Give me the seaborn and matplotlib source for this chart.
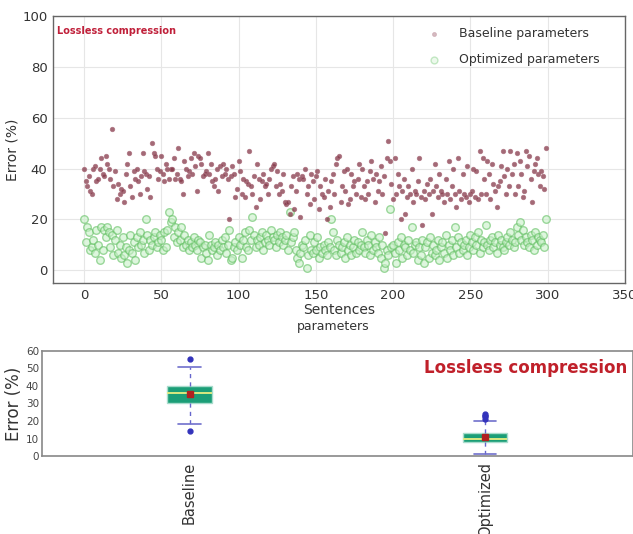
import numpy as np
import pandas as pd
import matplotlib
matplotlib.use("Agg")
import matplotlib.pyplot as plt
import seaborn as sns

# Per-sentence error (%) for each parameter set, sentences 0..299
baseline_err = [
    40, 35, 33, 37, 31, 30, 40, 41, 35, 36, 40, 44, 38, 37, 45, 42, 40, 36, 55.5, 33,
    39, 28, 34, 30, 32, 31, 27, 38, 42, 46, 33, 29, 39, 36, 40, 35, 30, 37, 46, 39,
    38, 32, 37, 29, 50, 46, 45, 40, 36, 39, 45, 38, 35, 42, 40, 36, 40, 40, 44, 36,
    38, 48, 36, 35, 30, 43, 40, 37, 39, 44, 38, 46, 41, 31, 45, 44, 42, 37, 38, 39,
    46, 38, 42, 35, 33, 36, 40, 31, 41, 37, 42, 38, 40, 36, 20, 37, 41, 38, 29, 32,
    43, 39, 30, 36, 29, 35, 34, 47, 33, 30, 37, 25, 42, 36, 28, 35, 38, 33, 34, 30,
    36, 40, 41, 42, 33, 39, 30, 34, 31, 38, 27, 26, 27, 22, 33, 37, 24, 31, 38, 36,
    21, 37, 36, 40, 30, 33, 26, 38, 35, 28, 37, 39, 24, 33, 30, 29, 36, 20, 31, 25,
    35, 38, 30, 42, 44, 45, 27, 33, 39, 31, 40, 26, 28, 38, 33, 35, 30, 36, 42, 29,
    40, 33, 28, 35, 30, 39, 43, 36, 27, 38, 31, 35, 41, 30, 37, 14.5, 44, 51, 43, 34,
    28, 44, 30, 38, 33, 20, 31, 36, 22, 29, 33, 30, 40, 27, 31, 30, 35, 44, 29, 18,
    31, 28, 34, 30, 36, 22, 31, 42, 33, 29, 38, 31, 30, 27, 36, 30, 43, 28, 33, 40,
    30, 25, 44, 31, 28, 38, 30, 29, 41, 27, 30, 31, 40, 29, 39, 28, 47, 30, 44, 36,
    30, 43, 38, 28, 42, 34, 31, 25, 33, 35, 41, 47, 37, 30, 40, 33, 47, 38, 42, 30,
    46, 33, 43, 38, 29, 31, 47, 41, 45, 36, 27, 39, 42, 44, 38, 33, 39, 37, 32, 48,
]
optimized_err = [
    20, 11, 17, 15, 8, 9, 12, 7, 16, 10, 4, 17, 8, 16, 13, 17, 15, 9, 14, 6,
    12, 16, 7, 10, 5, 13, 6, 9, 3, 8, 14, 7, 11, 4, 13, 9, 15, 10, 12, 7,
    20, 14, 8, 12, 10, 13, 15, 9, 11, 14, 12, 8, 15, 9, 16, 23, 19, 20, 13, 17,
    11, 15, 12, 17, 9, 14, 10, 12, 8, 11, 9, 13, 10, 8, 12, 11, 5, 9, 10, 7,
    4, 14, 10, 8, 9, 11, 6, 10, 8, 12, 9, 13, 7, 10, 16, 4, 5, 9, 11, 8,
    13, 10, 5, 12, 15, 9, 8, 16, 12, 21, 14, 9, 12, 10, 13, 15, 8, 11, 14, 12,
    10, 16, 13, 12, 9, 14, 11, 15, 13, 10, 12, 14, 8, 23, 11, 13, 15, 8, 5, 3,
    7, 10, 9, 12, 1, 6, 14, 8, 7, 11, 8, 13, 5, 9, 7, 10, 8, 6, 11, 9,
    20, 15, 8, 6, 12, 10, 7, 9, 11, 5, 13, 8, 10, 6, 9, 12, 7, 11, 8, 10,
    15, 9, 7, 12, 10, 6, 14, 8, 11, 9, 7, 13, 5, 10, 1, 3, 8, 6, 24, 9,
    10, 7, 3, 11, 8, 13, 5, 10, 9, 6, 12, 8, 17, 7, 10, 11, 4, 9, 6, 12,
    3, 9, 11, 5, 13, 7, 10, 6, 8, 12, 4, 9, 11, 7, 14, 5, 10, 8, 12, 6,
    17, 9, 13, 7, 11, 8, 10, 12, 6, 9, 14, 11, 8, 13, 10, 15, 7, 12, 9, 11,
    18, 10, 8, 12, 13, 9, 11, 7, 14, 10, 12, 9, 8, 11, 13, 10, 15, 12, 9, 11,
    17, 14, 19, 12, 16, 10, 13, 11, 9, 14, 12, 8, 15, 10, 13, 12, 11, 14, 9, 20,
]
groups = ["Baseline", "Optimized"]
series_labels = ["Baseline parameters", "Optimized parameters"]

sentences = np.arange(len(baseline_err))
scatter_df = pd.DataFrame({
    "sentence": np.concatenate([sentences, sentences]),
    "error": np.concatenate([baseline_err, optimized_err]),
    "series": [series_labels[0]] * len(baseline_err) + [series_labels[1]] * len(optimized_err),
})
box_df = pd.DataFrame({
    "group": [groups[0]] * len(baseline_err) + [groups[1]] * len(optimized_err),
    "error": np.concatenate([baseline_err, optimized_err]),
})

sns.set_style("whitegrid", {"grid.color": "#e6e6e6", "axes.edgecolor": "#555555"})
plt.rcParams["font.family"] = ["DejaVu Sans"]

fig = plt.figure(figsize=(6.33, 5.34), dpi=100)
ax1 = fig.add_axes([0.084, 0.470, 0.903, 0.500])
ax2 = fig.add_axes([0.066, 0.146, 0.934, 0.197])

# Scatter of per-sentence error
b = scatter_df[scatter_df["series"] == series_labels[0]]
o = scatter_df[scatter_df["series"] == series_labels[1]]
sns.scatterplot(data=b, x="sentence", y="error", ax=ax1, color="#843848",
                s=11, alpha=0.75, edgecolor="#a86878", linewidth=0.5,
                label=series_labels[0], zorder=3)
sns.scatterplot(data=o, x="sentence", y="error", ax=ax1, facecolor="#c9f0c9",
                edgecolor="#62c062", s=30, linewidth=1.0, alpha=0.6,
                label=series_labels[1], zorder=2)
ax1.set_xlim(-20, 350)
ax1.set_ylim(-5, 100)
ax1.set_xticks(range(0, 351, 50))
ax1.set_yticks(range(0, 101, 20))
ax1.tick_params(labelsize=9.5, colors="#333333", length=0, pad=4)
ax1.set_xlabel("Sentences", fontsize=10, color="#333333", labelpad=1)
ax1.set_ylabel("Error (%)", fontsize=10, color="#333333", labelpad=2)
for sp in ax1.spines.values():
    sp.set_color("#666666")
    sp.set_linewidth(1.0)
leg = ax1.legend(loc="upper right", frameon=False, fontsize=9,
                 handletextpad=1.0, labelspacing=1.05, markerscale=0.9,
                 borderaxespad=0.5, bbox_to_anchor=(0.975, 1.0))
for t in leg.get_texts():
    t.set_color("#333333")
for h in leg.legend_handles:
    h.set_alpha(0.35)
ax1.text(0.007, 0.945, "Lossless compression", transform=ax1.transAxes,
         fontsize=7, fontweight="bold", color="#c0203a", va="center", ha="left")

# Box plot of error per parameter set
sns.boxplot(data=box_df, x="group", y="error", order=groups, ax=ax2, width=0.15,
            showmeans=True, linewidth=1.0,
            boxprops=dict(facecolor="#1b9e77", edgecolor="#a8dccc"),
            medianprops=dict(color="#e8ee80", linewidth=1.3),
            whiskerprops=dict(color="#6666cc", linestyle=(0, (3, 3)), linewidth=1.0),
            capprops=dict(color="#7070cc", linewidth=1.2),
            flierprops=dict(marker="o", markerfacecolor="#3333bb", markeredgecolor="#3333bb",
                            markersize=3.5),
            meanprops=dict(marker="s", markerfacecolor="#b02020", markeredgecolor="#b02020",
                           markersize=4))
ax2.set_xlim(-0.5, 1.5)
ax2.set_ylim(0, 60)
ax2.set_yticks(range(0, 61, 10))
ax2.grid(False)
ax2.tick_params(axis="y", labelsize=7.5, colors="#444444", length=0, pad=2)
ax2.tick_params(axis="x", labelsize=10.5, colors="#333333", length=0, pad=4)
plt.setp(ax2.get_xticklabels(), rotation=90)
ax2.set_xlabel("")
ax2.set_ylabel("Error (%)", fontsize=12, color="#333333", labelpad=2)
for sp in ax2.spines.values():
    sp.set_color("#888888")
    sp.set_linewidth(1.2)
ax2.text(0.99, 0.84, "Lossless compression", transform=ax2.transAxes,
         fontsize=12, fontweight="bold", color="#c0202a", ha="right", va="center")
fig.text(0.526, 0.388, "parameters", fontsize=9, color="#333333", ha="center", va="center")

fig.savefig("out.png", dpi=100)
